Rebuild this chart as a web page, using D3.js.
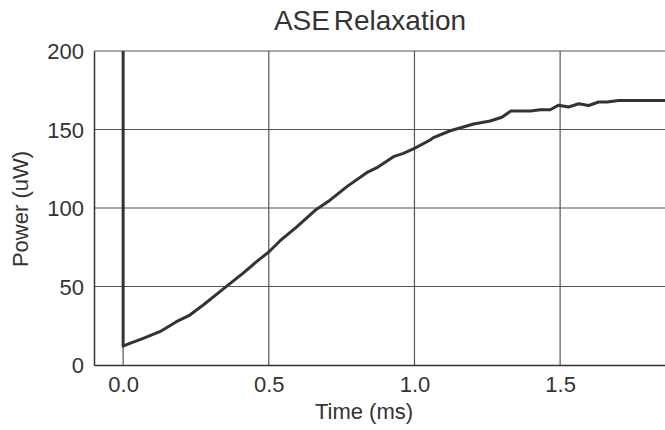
<!DOCTYPE html>
<html><head><meta charset="utf-8">
<script src="https://cdn.jsdelivr.net/npm/d3@7"></script>
<style>body{margin:0;background:#fff}svg{display:block}</style>
</head><body>
<svg id="c" width="665" height="430"></svg>
<script>
const title = "ASE Relaxation";
const xLabel = "Time (ms)";
const yLabel = "Power (uW)";
const xTicks = [0.0, 0.5, 1.0, 1.5];
const yTicks = [0, 50, 100, 150, 200];
const timeMs = [0, 0, 0.023, 0.069, 0.126, 0.183, 0.229, 0.275, 0.344, 0.412, 0.458, 0.5, 0.538, 0.596, 0.659, 0.71, 0.768, 0.836, 0.871, 0.928, 0.962, 1.0, 1.054, 1.065, 1.123, 1.203, 1.26, 1.30, 1.331, 1.398, 1.432, 1.466, 1.495, 1.529, 1.564, 1.598, 1.632, 1.661, 1.701, 1.87];
const powerUW = [200, 12, 13.8, 17, 21.2, 27.6, 31.8, 38.2, 48.5, 58.5, 65.8, 72, 79, 88, 98.5, 105, 113.6, 122.5, 125.7, 132.7, 134.8, 138, 143.3, 144.8, 149.2, 153.5, 155.4, 157.8, 161.8, 161.8, 162.6, 162.6, 165.5, 164.3, 166.4, 165.3, 167.5, 167.5, 168.5, 168.5];

const svg = d3.select("#c");
const x = d3.scaleLinear().domain([-0.1, 1.86]).range([94, 665]);
const y = d3.scaleLinear().domain([0, 200]).range([365, 51]);
const font = "'Liberation Sans', Arial, Helvetica, sans-serif";
const txt = "#333";

// grid
const grid = svg.append("g").attr("stroke", "#555").attr("stroke-width", 1.2);
grid.selectAll("line.h").data(yTicks.filter(d => d > 0)).join("line")
  .attr("x1", x(-0.1)).attr("x2", 665).attr("y1", d => y(d)).attr("y2", d => y(d));
grid.selectAll("line.v").data(xTicks).join("line")
  .attr("x1", d => x(d)).attr("x2", d => x(d)).attr("y1", y(0)).attr("y2", y(200));

// axes (border)
const xAxis = d3.axisBottom(x).tickValues(xTicks).tickFormat(d3.format(".1f")).tickSize(0).tickPadding(11);
const yAxis = d3.axisLeft(y).tickValues(yTicks).tickFormat(d3.format("d")).tickSize(0).tickPadding(10);
const gx = svg.append("g").attr("transform", `translate(0,${y(0)})`).call(xAxis);
const gy = svg.append("g").attr("transform", `translate(${x(-0.1)},0)`).call(yAxis);
[gx, gy].forEach(g => {
  g.select(".domain").attr("stroke", "#333").attr("stroke-width", 1.5);
  g.selectAll("text").attr("font-family", font).attr("font-size", 22).attr("fill", txt);
});
gx.selectAll("text").attr("dy", "0.71em");
gy.selectAll("text").attr("dy", "0.36em");

// line
const line = d3.line().x((d, i) => x(timeMs[i])).y(d => y(d));
svg.append("path").datum(powerUW)
  .attr("d", line).attr("fill", "none").attr("stroke", "#333")
  .attr("stroke-width", 3).attr("stroke-linejoin", "round");

// labels
svg.append("text").attr("x", 370).attr("y", 30).attr("text-anchor", "middle")
  .attr("font-family", font).attr("font-size", 28).attr("fill", txt)
  .attr("word-spacing", -4).text(title);
svg.append("text").attr("x", 364).attr("y", 419).attr("text-anchor", "middle")
  .attr("font-family", font).attr("font-size", 22).attr("fill", txt).text(xLabel);
svg.append("text").attr("transform", "translate(28,209) rotate(-90)").attr("text-anchor", "middle")
  .attr("font-family", font).attr("font-size", 22).attr("fill", txt).text(yLabel);
</script>
</body></html>
